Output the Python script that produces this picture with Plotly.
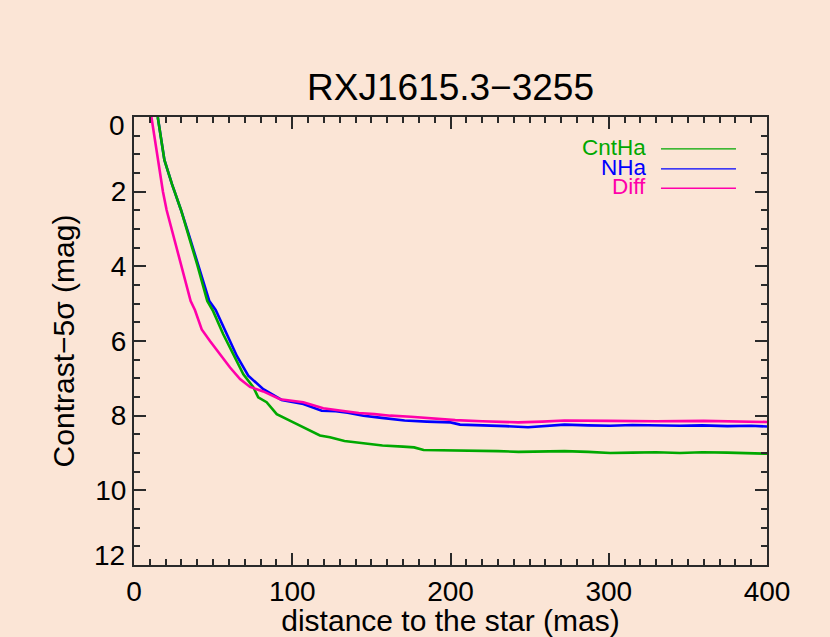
import plotly.graph_objects as go

# ---- data ----
cnt_x = [15, 19.2, 24, 29.7, 35, 40, 46.3, 50, 56.4, 62, 69.1, 75.4, 78.5, 83.8, 90.2, 100.7, 109.1,
         117.5, 123.8, 133, 145, 157, 170, 177, 183, 200, 214, 230, 243, 258, 272, 287, 301, 315,
         330, 345, 359, 375, 390, 400]
cnt_y = [0, 1.15, 1.8, 2.49, 3.25, 3.96, 4.93, 5.2, 5.82, 6.3, 6.89, 7.24, 7.51, 7.64, 7.96, 8.18, 8.36,
         8.53, 8.58, 8.68, 8.74, 8.8, 8.83, 8.85, 8.92, 8.93, 8.93, 8.95, 8.97, 8.95, 8.95, 8.97, 9.0, 8.99,
         8.98, 9.0, 8.98, 8.99, 9.0, 9.02]

nha_x = [15, 19.2, 24, 29.7, 35, 40.5, 47.6, 51.6, 58.6, 65, 72.2, 81.7, 93.3, 107, 118.6, 127.5, 135,
         145, 156.5, 165, 171, 185, 200, 206, 220, 235, 249, 260, 272, 287, 301, 315, 330, 345, 359,
         375, 390, 400]
nha_y = [0, 1.15, 1.8, 2.49, 3.2, 3.96, 4.93, 5.17, 5.82, 6.4, 6.93, 7.29, 7.58, 7.69, 7.87, 7.88, 7.92,
         8.0, 8.06, 8.1, 8.13, 8.16, 8.18, 8.24, 8.25, 8.28, 8.31, 8.28, 8.24, 8.26, 8.27, 8.25, 8.27,
         8.27, 8.26, 8.28, 8.27, 8.29]

diff_x = [11, 15, 18.3, 20.6, 25, 30.1, 35.8, 38.5, 42.8, 48, 54.3, 60.7, 67, 73.3, 81.7, 92.3, 107,
          119.6, 130, 142, 152, 162, 175, 185, 195, 203, 220, 243, 258, 272, 300, 330, 360, 380, 400]
diff_y = [0, 1.1, 2.0, 2.49, 3.2, 3.96, 4.93, 5.17, 5.69, 6.0, 6.36, 6.71, 7.02, 7.23, 7.35, 7.56, 7.64,
          7.8, 7.86, 7.93, 7.96, 8.0, 8.03, 8.06, 8.09, 8.12, 8.15, 8.18, 8.16, 8.13, 8.14, 8.15, 8.14,
          8.16, 8.17]

series_names = ["CntHa", "NHa", "Diff"]
x_ticks = [0, 100, 200, 300, 400]
y_ticks = [0, 2, 4, 6, 8, 10, 12]

GREEN = "#00a800"
BLUE = "#0000ff"
PINK = "#ff00aa"
BG = "#fbe5d6"
FONT = "Liberation Sans, Arial, Helvetica, sans-serif"
AX = "#2a2a2a"

fig = go.Figure()
fig.add_trace(go.Scatter(x=nha_x, y=nha_y, mode="lines", name=series_names[1],
                         line=dict(color=BLUE, width=2.6)))
fig.add_trace(go.Scatter(x=cnt_x, y=cnt_y, mode="lines", name=series_names[0],
                         line=dict(color=GREEN, width=2.6)))
fig.add_trace(go.Scatter(x=diff_x, y=diff_y, mode="lines", name=series_names[2],
                         line=dict(color=PINK, width=2.6)))

# legend drawn IDL-style: right-aligned coloured text followed by a line sample
leg = [(series_names[0], GREEN, 0.933), (series_names[1], BLUE, 0.888), (series_names[2], PINK, 0.845)]
for name, col, yy in leg:
    fig.add_annotation(x=0.812, y=yy, xref="paper", yref="paper", text=name, showarrow=False,
                       xanchor="right", yanchor="middle", height=19, valign="middle",
                       font=dict(family=FONT, size=22.5, color=col))
    fig.add_shape(type="line", xref="paper", yref="paper", x0=0.8325, x1=0.951, y0=yy - 0.004,
                  y1=yy - 0.004, line=dict(color=col, width=1.3))

axis_common = dict(showline=True, linecolor=AX, linewidth=2, mirror="ticks", ticks="inside",
                   tickcolor=AX, tickwidth=2, ticklen=12, showgrid=False, zeroline=False,
                   tickfont=dict(family=FONT, size=28, color="black"))

fig.update_xaxes(range=[0, 400], tickvals=x_ticks, ticktext=[str(v) for v in x_ticks],
                 minor=dict(dtick=10, ticks="inside", ticklen=6, tickcolor=AX, tickwidth=1.5),
                 title=dict(text="distance to the star (mas)", font=dict(family=FONT, size=30, color="black"),
                            standoff=4),
                 **axis_common)

# IDL keeps the end labels of the y axis inside the axis span: draw those two shifted
y_text = ["" if v in (y_ticks[0], y_ticks[-1]) else str(v) for v in y_ticks]
fig.update_yaxes(range=[12, 0], tickvals=y_ticks, ticktext=y_text,
                 minor=dict(dtick=0.5, tick0=0, ticks="inside", ticklen=6, tickcolor=AX, tickwidth=1.5),
                 title=dict(text="Contrast\u22125\u03c3 (mag)", font=dict(family=FONT, size=30, color="black"),
                            standoff=12),
                 **axis_common)
for v, shift in ((y_ticks[0], -8), (y_ticks[-1], 10)):
    fig.add_annotation(x=0, xref="paper", y=v, yref="y", text=str(v), showarrow=False,
                       xanchor="right", yanchor="middle", xshift=-7, yshift=shift,
                       font=dict(family=FONT, size=28, color="black"))

fig.update_layout(
    width=830, height=637,
    paper_bgcolor=BG, plot_bgcolor=BG,
    margin=dict(l=134, r=63, t=117, b=72, autoexpand=False),
    showlegend=False,
    title=dict(text="RXJ1615.3\u22123255", x=0.5, xref="paper", xanchor="center",
               y=(637 - 87) / 637, yref="container", yanchor="middle",
               font=dict(family=FONT, size=37, color="black")),
)

fig.write_html("out.html", config={"displayModeBar": False},
               post_script="document.body.style.margin='0';document.body.style.overflow='hidden';"
                           "document.documentElement.style.background='" + BG + "';")
